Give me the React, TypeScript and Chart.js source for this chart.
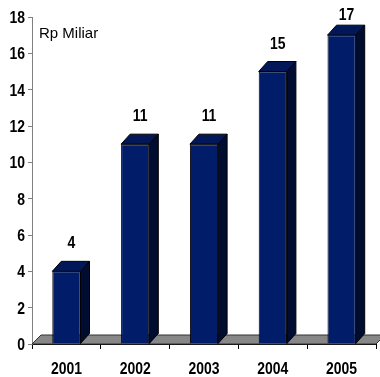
import React, { useEffect, useRef } from "react";
import { Chart, registerables } from "chart.js";

Chart.register(...registerables);

const categories = ["2001", "2002", "2003", "2004", "2005"];
const values = [4, 11, 11, 15, 17];
const yMin = 0;
const yMax = 18;
const yStep = 2;
const unitLabel = "Rp Miliar";

const FONT_BOLD = "bold 17px 'Liberation Sans', Arial, sans-serif";
const FONT_REG = "15px 'Liberation Sans', Arial, sans-serif";
const NARROW = 0.82;
const FRONT = "#011d69";
const TOP = "#011757";
const SIDE = "#000c30";
const FLOOR = "#878787";
const DX = 9;
const DY = 10;
const FLOOR_DY = 9;

function narrowText(ctx: CanvasRenderingContext2D, text: string, x: number, y: number, align: CanvasTextAlign) {
  ctx.save();
  ctx.translate(x, y);
  ctx.scale(NARROW, 1);
  ctx.font = FONT_BOLD;
  ctx.fillStyle = "#000";
  ctx.textAlign = align;
  ctx.textBaseline = "alphabetic";
  ctx.fillText(text, 0, 0);
  ctx.restore();
}

const bar3d = {
  id: "bar3d",
  beforeDatasetsDraw(chart: any) {
    const { ctx, chartArea } = chart;
    const b = chartArea.bottom;
    ctx.save();
    ctx.beginPath();
    ctx.moveTo(chartArea.left, b);
    ctx.lineTo(chartArea.left + DX, b - FLOOR_DY);
    ctx.lineTo(chartArea.right + DX, b - FLOOR_DY);
    ctx.lineTo(chartArea.right, b);
    ctx.closePath();
    ctx.fillStyle = FLOOR;
    ctx.fill();
    ctx.strokeStyle = "#333";
    ctx.lineWidth = 1;
    ctx.stroke();
    ctx.restore();
  },
  afterDatasetsDraw(chart: any) {
    const { ctx } = chart;
    const meta = chart.getDatasetMeta(0);
    ctx.save();
    ctx.lineWidth = 1;
    ctx.strokeStyle = "#000";
    meta.data.forEach((bar: any, i: number) => {
      const l = bar.x - bar.width / 2;
      const r = bar.x + bar.width / 2;
      const t = bar.y;
      const base = bar.base;
      ctx.beginPath();
      ctx.moveTo(r, t);
      ctx.lineTo(r + DX, t - DY);
      ctx.lineTo(r + DX, base - DY);
      ctx.lineTo(r, base);
      ctx.closePath();
      ctx.fillStyle = SIDE;
      ctx.fill();
      ctx.stroke();
      ctx.beginPath();
      ctx.moveTo(l, t);
      ctx.lineTo(l + DX, t - DY);
      ctx.lineTo(r + DX, t - DY);
      ctx.lineTo(r, t);
      ctx.closePath();
      ctx.fillStyle = TOP;
      ctx.fill();
      ctx.stroke();
      narrowText(ctx, String(values[i]), bar.x + 5, Math.max(t - 23, 20), "center");
    });
    ctx.restore();
  },
  afterDraw(chart: any) {
    const { ctx, chartArea, scales } = chart;
    const xs = scales.x;
    const ys = scales.y;
    chart.data.labels.forEach((lab: string, i: number) => {
      narrowText(ctx, lab, xs.getPixelForValue(i), chartArea.bottom + 30, "center");
    });
    ys.ticks.forEach((tk: any, i: number) => {
      narrowText(ctx, String(tk.value), chartArea.left - 7, ys.getPixelForTick(i) + 6, "right");
    });
    ctx.save();
    ctx.fillStyle = "#000";
    ctx.font = FONT_REG;
    ctx.textAlign = "left";
    ctx.textBaseline = "alphabetic";
    ctx.fillText(unitLabel, chartArea.left + 7, 38);
    ctx.restore();
  },
};

export default function App() {
  const ref = useRef<HTMLCanvasElement>(null);
  useEffect(() => {
    if (!ref.current) return;
    const chart = new Chart(ref.current, {
      type: "bar",
      data: {
        labels: categories,
        datasets: [
          {
            data: values,
            backgroundColor: FRONT,
            borderColor: "#000",
            borderWidth: 1,
            barPercentage: 0.41,
            categoryPercentage: 1,
          },
        ],
      },
      options: {
        responsive: false,
        animation: false,
        layout: { padding: { top: 17, right: 4, left: 0, bottom: 0 } },
        plugins: { legend: { display: false }, tooltip: { enabled: false } },
        scales: {
          x: {
            grid: { offset: true, drawOnChartArea: false, drawTicks: true, tickLength: 5, color: "#000" },
            border: { color: "#000" },
            ticks: { color: "rgba(0,0,0,0)", font: { size: 17, weight: "bold" }, padding: 8 },
            afterFit: (s: any) => { s.height = 33; },
          },
          y: {
            min: yMin,
            max: yMax,
            grid: { drawOnChartArea: false, drawTicks: true, tickLength: 4, color: "#808080" },
            border: { color: "#808080" },
            ticks: { stepSize: yStep, color: "rgba(0,0,0,0)", font: { size: 17, weight: "bold" }, padding: 3 },
            afterFit: (s: any) => { s.width = 32; },
          },
        },
      },
      plugins: [bar3d],
    });
    return () => chart.destroy();
  }, []);
  return (
    <div style={{ position: "absolute", left: 0, top: 0, width: 380, height: 377, background: "#fff" }}>
      <canvas ref={ref} width={380} height={377} style={{ display: "block" }} />
    </div>
  );
}
